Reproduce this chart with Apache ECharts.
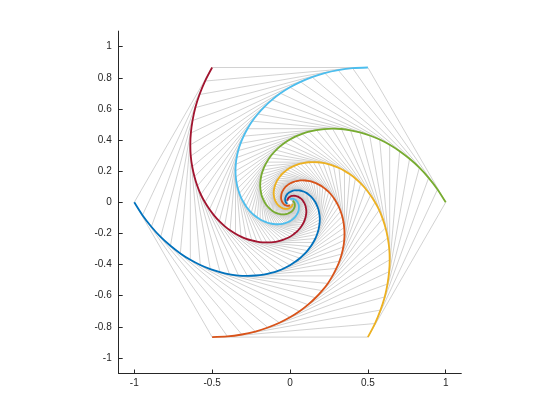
<!DOCTYPE html>
<html>
<head>
<meta charset="utf-8">
<script src="https://cdn.jsdelivr.net/npm/echarts@6/dist/echarts.min.js"></script>
<style>
  html, body { margin: 0; padding: 0; background: #fff; }
  #chart { width: 560px; height: 420px; }
</style>
</head>
<body>
<div id="chart"></div>
<script>
// tick labels
const tickX = [-1, -0.5, 0, 0.5, 1];
const tickY = [-1, -0.8, -0.6, -0.4, -0.2, 0, 0.2, 0.4, 0.6, 0.8, 1];

// track of the mouse starting at (-1, 0), read at each gray-line step:
// angle (deg) and distance from the centre
const trackAngle = [
  180, 185, 190, 195, 200, 205, 210, 215, 220, 225,
  230, 235, 240, 245, 250, 255, 260, 265, 270, 275,
  280, 285, 290, 295, 300, 305, 310, 315, 320, 325,
  330, 335, 340, 345, 350, 355, 360, 365, 370, 375,
  380, 385, 390, 395, 400, 405, 410, 415, 420, 425,
  430, 435, 440, 445, 450, 455, 460, 465, 470, 475,
  480, 485, 490, 495, 500, 505, 510, 515, 520, 525,
  530, 535, 540, 545, 550, 555, 560, 565, 570, 575,
  580
];
const trackRadius = [
  1.000, 0.951, 0.904, 0.860, 0.817, 0.777, 0.739, 0.703, 0.668, 0.635,
  0.604, 0.575, 0.546, 0.519, 0.494, 0.470, 0.447, 0.425, 0.404, 0.384,
  0.365, 0.347, 0.330, 0.314, 0.298, 0.284, 0.270, 0.257, 0.244, 0.232,
  0.221, 0.210, 0.199, 0.190, 0.180, 0.171, 0.163, 0.155, 0.147, 0.140,
  0.133, 0.127, 0.121, 0.115, 0.109, 0.104, 0.099, 0.094, 0.089, 0.085,
  0.081, 0.077, 0.073, 0.069, 0.066, 0.063, 0.060, 0.057, 0.054, 0.051,
  0.049, 0.046, 0.044, 0.042, 0.040, 0.038, 0.036, 0.034, 0.033, 0.031,
  0.029, 0.028, 0.027, 0.025, 0.024, 0.023, 0.022, 0.021, 0.020, 0.019,
  0.018
];

// the six mice sit at the hexagon corners, each one 60 deg further round
const mouseOffset = [0, 60, 120, 180, 240, 300];
const mouseColor = ['#0072BD', '#D95319', '#EDB120', '#77AC30', '#4DBEEE', '#A2142F'];

function pos(i, k) {
  const a = (trackAngle[i] + mouseOffset[k]) * Math.PI / 180;
  return [trackRadius[i] * Math.cos(a), trackRadius[i] * Math.sin(a)];
}

// gray hexagons: every mouse joined to the one it chases
const hexagons = [];
for (let i = 0; i < trackAngle.length; i++) {
  const coords = [];
  for (let k = 0; k <= 6; k++) coords.push(pos(i, k % 6));
  hexagons.push({ coords: coords });
}

const series = [{
  type: 'lines',
  coordinateSystem: 'cartesian2d',
  polyline: true,
  silent: true,
  z: 1,
  lineStyle: { color: '#c6c6c6', width: 0.8, opacity: 1 },
  data: hexagons
}];

mouseOffset.forEach((off, k) => {
  const pts = [];
  for (let i = 0; i < trackAngle.length; i++) pts.push(pos(i, k));
  series.push({
    type: 'line',
    data: pts,
    smooth: 0.3,
    showSymbol: false,
    silent: true,
    z: 3,
    lineStyle: { color: mouseColor[k], width: 1.8 }
  });
});

const fmt = v => String(Math.round(v * 10) / 10);
const labelStyle = { color: '#262626', fontSize: 10, fontFamily: 'Liberation Sans, Arial, sans-serif' };

const myChart = echarts.init(document.getElementById('chart'));
myChart.setOption({
  animation: false,
  backgroundColor: '#fff',
  grid: { left: 118.7, right: 98.7, top: 31.1, bottom: 46.5 },
  xAxis: {
    type: 'value',
    min: -1.1,
    max: 1.1,
    axisLine: { show: true, onZero: false, lineStyle: { color: '#262626', width: 1 } },
    axisTick: { show: true, inside: true, length: 4, customValues: tickX, lineStyle: { color: '#262626' } },
    axisLabel: Object.assign({ customValues: tickX, margin: 5, formatter: fmt }, labelStyle),
    splitLine: { show: false }
  },
  yAxis: {
    type: 'value',
    min: -1.1,
    max: 1.1,
    axisLine: { show: true, onZero: false, lineStyle: { color: '#262626', width: 1 } },
    axisTick: { show: true, inside: true, length: 4, customValues: tickY, lineStyle: { color: '#262626' } },
    axisLabel: Object.assign({ customValues: tickY, margin: 7, formatter: fmt }, labelStyle),
    splitLine: { show: false }
  },
  series: series
});
</script>
</body>
</html>
